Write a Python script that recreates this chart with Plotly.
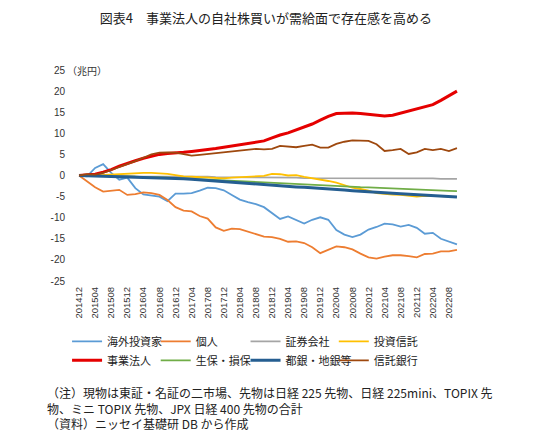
import plotly.graph_objects as go
import pandas as pd

# bimonthly points, 2014/12 - 2022/10
months = pd.date_range("2014-12-01", periods=48, freq="2MS").strftime("%Y%m").tolist()

tick_labels = ["201412", "201504", "201508", "201512", "201604", "201608", "201612",
               "201704", "201708", "201712", "201804", "201808", "201812", "201904",
               "201908", "201912", "202004", "202008", "202012", "202104", "202108",
               "202112", "202204", "202208"]

kaigai = [0, -0.2, 1.8, 2.7, 0.6, -1.0, -0.5, -3.0, -4.5, -4.7, -5.0, -6.1, -4.3, -4.3,
          -4.2, -3.6, -2.9, -3.0, -3.5, -4.6, -5.7, -6.3, -6.8, -7.5, -8.8, -10.3, -9.7,
          -10.6, -11.4, -10.5, -9.9, -10.5, -12.9, -14.0, -14.6, -14.0, -12.8, -12.2,
          -11.4, -11.6, -12.1, -11.7, -12.4, -13.8, -13.6, -15.0, -15.7, -16.3]
kojin = [0, -1.4, -2.8, -3.8, -3.6, -3.4, -4.6, -4.4, -4.0, -4.2, -4.6, -5.8, -7.5, -8.3,
         -8.5, -9.6, -10.2, -12.3, -13.1, -12.6, -12.7, -13.3, -14.0, -14.5, -14.6, -15.0,
         -15.7, -15.6, -16.0, -17.0, -18.4, -17.6, -16.8, -17.0, -17.5, -18.5, -19.4,
         -19.7, -19.2, -18.9, -18.9, -19.1, -19.4, -18.6, -18.5, -18.0, -18.0, -17.6]
shoken = [0, 0, -0.1, -0.1, -0.1, -0.1, -0.1, -0.2, -0.2, -0.2, -0.2, -0.2, -0.3, -0.3,
          -0.3, -0.3, -0.3, -0.4, -0.4, -0.4, -0.4, -0.4, -0.5, -0.5, -0.5, -0.5, -0.5,
          -0.5, -0.6, -0.6, -0.6, -0.6, -0.6, -0.7, -0.7, -0.7, -0.7, -0.6, -0.6, -0.7,
          -0.6, -0.7, -0.6, -0.7, -0.7, -0.8, -0.8, -0.8]
toshin = [0, 0.1, 0.0, 0.1, 0.3, 0.4, 0.5, 0.6, 0.6, 0.6, 0.5, 0.4, 0.1, -0.2, -0.3, -0.4,
          -0.5, -0.6, -0.7, -0.5, -0.4, -0.3, -0.1, -0.1, 0.4, 0.3, 0.0, 0.1, -0.3, -0.6,
          -1.0, -1.3, -1.7, -2.3, -2.9, -3.2, -3.6, -4.2, -4.4, -4.5, -4.6, -4.8, -5.0,
          -4.8, -4.8, -4.9, -5.0, -5.1]
jigyo = [0, 0.1, 0.3, 0.8, 1.4, 2.2, 2.9, 3.5, 4.1, 4.6, 5.0, 5.2, 5.3, 5.5, 5.7, 5.9,
         6.1, 6.4, 6.7, 7.0, 7.2, 7.5, 7.9, 8.2, 8.9, 9.6, 10.1, 10.8, 11.5, 12.2, 13.1,
         14.0, 14.7, 14.8, 14.8, 14.7, 14.5, 14.4, 14.1, 14.3, 14.8, 15.2, 15.7, 16.2,
         16.8, 17.8, 19.0, 20.0]
seiho = [0, 0, -0.1, -0.1, -0.2, -0.2, -0.3, -0.3, -0.4, -0.4, -0.5, -0.5, -0.6, -0.7,
         -0.8, -0.9, -1.0, -1.1, -1.2, -1.3, -1.4, -1.5, -1.6, -1.7, -1.8, -1.9, -2.0,
         -2.1, -2.2, -2.3, -2.35, -2.4, -2.5, -2.6, -2.7, -2.75, -2.8, -2.9, -2.95, -3.0,
         -3.05, -3.15, -3.25, -3.35, -3.45, -3.55, -3.65, -3.7]
togin = [0, -0.05, -0.1, -0.15, -0.2, -0.25, -0.3, -0.35, -0.4, -0.45, -0.5, -0.55, -0.6,
         -0.75, -0.9, -1.05, -1.2, -1.35, -1.5, -1.65, -1.8, -1.95, -2.1, -2.25, -2.35,
         -2.5, -2.6, -2.7, -2.8, -2.9, -3.0, -3.15, -3.3, -3.45, -3.6, -3.75, -3.9, -4.0,
         -4.1, -4.2, -4.3, -4.4, -4.5, -4.6, -4.75, -4.85, -5.0, -5.1]
shintaku = [0, 0.3, 0.2, 0.6, 1.3, 2.0, 2.6, 3.4, 4.2, 5.0, 5.4, 5.5, 5.4, 5.0, 4.7, 4.9,
            5.1, 5.2, 5.5, 5.7, 5.9, 6.0, 6.3, 6.2, 6.3, 7.0, 6.8, 6.7, 7.0, 7.3, 6.6, 6.6,
            7.5, 8.0, 8.3, 8.3, 8.2, 7.4, 5.8, 6.0, 6.3, 5.1, 5.5, 6.3, 6.0, 6.3, 5.8, 6.5]

# name, values, colour, width, legend column
series = [
    ("海外投資家", kaigai, "#5B9BD5", 1.8, "legend"),
    ("個人", kojin, "#ED7D31", 1.8, "legend2"),
    ("証券会社", shoken, "#A5A5A5", 1.8, "legend3"),
    ("投資信託", toshin, "#FFC000", 1.8, "legend4"),
    ("事業法人", jigyo, "#E50000", 3, "legend"),
    ("生保・損保", seiho, "#70AD47", 1.8, "legend2"),
    ("都銀・地銀等", togin, "#255E91", 3, "legend3"),
    ("信託銀行", shintaku, "#9E480E", 1.8, "legend4"),
]

jp = "Noto Sans CJK JP"
num = "Liberation Sans"

fig = go.Figure()
for name, vals, color, w, leg in series:
    fig.add_trace(go.Scatter(x=months, y=vals, name=name, mode="lines", legend=leg,
                             line=dict(color=color, width=w)))

yticks = list(range(-25, 30, 5))

def legend_col(x):
    return dict(orientation="v", x=x, xanchor="left", y=-0.217, yanchor="top",
                traceorder="normal", bgcolor="rgba(0,0,0,0)",
                font=dict(family=jp, size=11, color="#222"))

# the page body adds 8px at top/left, so margins are set 8px smaller
fig.update_layout(
    width=550, height=440,
    margin=dict(l=63, r=93, t=62, b=167, autoexpand=False),
    plot_bgcolor="white", paper_bgcolor="white",
    title=dict(text="図表4　事業法人の自社株買いが需給面で存在感を高める",
               x=0.469, xanchor="center", y=0.977, yanchor="middle",
               font=dict(family=jp, size=13, color="#222")),
    xaxis=dict(type="category", range=[-1, 48], tickvals=tick_labels, ticktext=tick_labels,
               tickangle=-90, showgrid=False, zeroline=False, showline=False,
               ticks="", ticklabelstandoff=3,
               tickfont=dict(family=num, size=9.5, color="#333")),
    yaxis=dict(range=[-25, 25], tickvals=yticks, ticktext=[str(v) for v in yticks],
               showgrid=False, zeroline=False, showline=False, ticks="",
               ticklabelstandoff=5,
               tickfont=dict(family=num, size=10, color="#333")),
    legend=legend_col(-0.010),
    legend2=legend_col(0.215),
    legend3=legend_col(0.443),
    legend4=legend_col(0.667),
    showlegend=True,
)

fig.add_annotation(text="（兆円）", xref="paper", yref="y", x=-0.015, y=25,
                   xanchor="left", yanchor="middle", showarrow=False,
                   font=dict(family=jp, size=10, color="#333"))

note = ("（注）現物は東証・名証の二市場、先物は日経 225 先物、日経 225mini、TOPIX 先<br>"
        "物、ミニ TOPIX 先物、JPX 日経 400 先物の合計<br>"
        "（資料）ニッセイ基礎研 DB から作成")
fig.add_annotation(text=note, xref="paper", yref="paper", x=-0.066, y=-0.48,
                   xanchor="left", yanchor="top", align="left", showarrow=False,
                   font=dict(family=jp, size=12, color="#222"))

fig.write_html("out.html")
